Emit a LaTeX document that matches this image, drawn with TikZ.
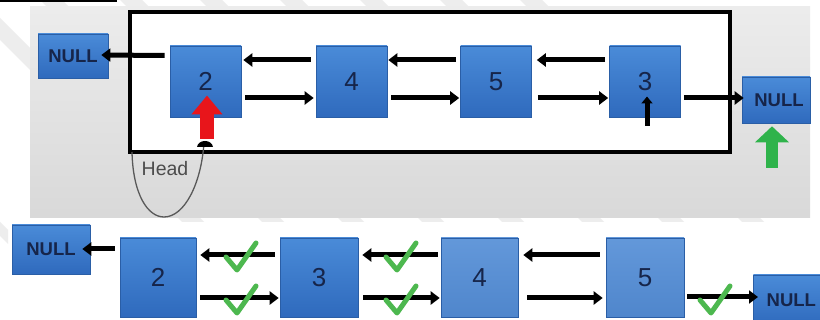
\documentclass[tikz,border=0pt]{standalone}
\usepackage{fontspec}
\setmainfont{Liberation Sans}
\usetikzlibrary{arrows.meta,calc}
\definecolor{nodetop}{HTML}{4A8BD8}
\definecolor{nodebot}{HTML}{2F6ABD}
\definecolor{nodeline}{HTML}{2A5EA6}
\definecolor{lighttop}{HTML}{6398DA}
\definecolor{lightbot}{HTML}{4F86CC}
\definecolor{navytext}{HTML}{16254A}
\definecolor{panelgray}{HTML}{E4E4E4}
\definecolor{redarr}{HTML}{E8151B}
\definecolor{greenarr}{HTML}{2FB34B}
\definecolor{checkgreen}{HTML}{4DB84F}
\tikzset{
  blk/.style={rectangle, draw=nodeline, line width=0.6pt, top color=nodetop, bottom color=nodebot,
    text=navytext, font=\fontsize{26}{26}\selectfont, inner sep=0pt},
  lblk/.style={blk, top color=lighttop, bottom color=lightbot},
  nullbox/.style={blk, font=\bfseries\fontsize{18.5}{18.5}\selectfont},
  arr/.style={line width=5pt, -{Triangle[width=13pt,length=9pt]}},
  smallarr/.style={line width=5pt, -{Triangle[width=11pt,length=7pt]}},
  chk/.style={line width=5pt, draw=checkgreen, line cap=round, line join=round},
}
\begin{document}
\begin{tikzpicture}[x=1pt,y=-1pt]
\useasboundingbox (0,0) rectangle (820,320);
\clip (0,0) rectangle (820,320);
\fill[white] (0,0) rectangle (820,320);
% decorative diagonal stripes
\foreach \s in {-40,40,120,200,280,360,440,520}
  \fill[black!7] (\s,0) -- (\s+22,0) -- (\s+22+260,260) -- (\s+260,260) -- cycle;
\fill[white] (0,222) rectangle (820,320);
\fill[black!7] (0,222) -- (0,236) -- (8,244) -- (8,230) -- cycle;
\draw[line width=1.5pt] (0,0.8) -- (117,0.8);
% gray panel
\fill[top color=panelgray!70, bottom color=panelgray!95!black] (30,7) rectangle (810,218);
% big white frame
\draw[line width=4pt, fill=white] (130,12) rectangle (730,152);

% ---------- top row ----------
\node[nullbox, minimum width=70pt, minimum height=44pt] (nl) at (73,56) {NULL};
\node[blk, minimum width=71pt, minimum height=71pt] (n2) at (205.5,81.5) {2};
\node[blk, minimum width=71pt, minimum height=71pt] (n4) at (351.5,81.5) {4};
\node[blk, minimum width=71pt, minimum height=71pt] (n5) at (496,81.5) {5};
\node[blk, minimum width=71pt, minimum height=71pt] (n3) at (645,81.5) {3};
\node[nullbox, minimum width=68pt, minimum height=46pt] (nr) at (776,100) {\hspace*{6pt}NULL};

\draw[arr] ([xshift=-5pt,yshift=26pt]n2.west) -- ([xshift=-7pt,yshift=1pt]nl.east);
\draw[arr] ([xshift=-5pt,yshift=21.5pt]n4.west) -- ([xshift=2pt,yshift=21.5pt]n2.east);
\draw[arr] ([xshift=4pt,yshift=-16.5pt]n2.east) -- ([xshift=-2pt,yshift=-16.5pt]n4.west);
\draw[arr] ([xshift=-4pt,yshift=21.5pt]n5.west) -- ([xshift=1pt,yshift=21.5pt]n4.east);
\draw[arr] ([xshift=4pt,yshift=-16.5pt]n4.east) -- ([xshift=-1pt,yshift=-16.5pt]n5.west);
\draw[arr] ([xshift=-4pt,yshift=21.5pt]n3.west) -- ([xshift=5pt,yshift=21.5pt]n5.east);
\draw[arr] ([xshift=6pt,yshift=-16.5pt]n5.east) -- ([xshift=-1pt,yshift=-16.5pt]n3.west);
\draw[arr] ([xshift=3pt,yshift=-16.5pt]n3.east) -- ([xshift=2pt,yshift=2pt]nr.west);

% small black pointer in node 3
\coordinate (p3) at (647,126);
\draw[smallarr] (p3) -- ([xshift=2pt,yshift=-15pt]n3.center);

% Head loop
\draw[black!65, line width=1.3pt] (132,152) .. controls (133,195) and (148,217) .. (164,217)
  .. controls (184,217) and (201,185) .. (204,143);
\fill[black] (197,147) .. controls (198,139) and (212,139) .. (213,147) -- cycle;
\node[text=black!70, font=\fontsize{19.5}{19.5}\selectfont, inner sep=0pt] (headlbl) at (165,169) {Head};

% red head arrow
\coordinate (rbase) at (207,139);
\draw[redarr, line width=14pt, -{Triangle[width=30pt,length=19pt]}] (rbase) -- ([xshift=1.5pt,yshift=-14pt]n2.center);

% green arrow
\coordinate (gbase) at (772,168);
\draw[greenarr, line width=12pt, -{Triangle[width=33pt,length=16pt]}] (gbase) -- ([yshift=-3pt]gbase |- nr.south);

% ---------- bottom row ----------
\node[nullbox, minimum width=78pt, minimum height=49pt] (bl) at (51,249.5) {NULL};
\node[blk, minimum width=76pt, minimum height=79pt] (b2) at (158,277.5) {2};
\node[blk, minimum width=78pt, minimum height=79pt] (b3) at (319,277.5) {3};
\node[lblk, minimum width=77pt, minimum height=79pt] (b4) at (479.5,277.5) {4};
\node[lblk, minimum width=78pt, minimum height=79pt] (b5) at (645,277.5) {5};
\node[nullbox, minimum width=70pt, minimum height=50pt, anchor=west] (br) at (753,300) {\hspace*{6pt}NULL};

\draw[arr] ([xshift=-5pt,yshift=28.5pt]b2.west) -- ([xshift=-8pt,yshift=0.5pt]bl.east);
\draw[arr] ([xshift=-5pt,yshift=22.5pt]b3.west) -- ([xshift=4pt,yshift=22.5pt]b2.east);
\draw[arr] ([xshift=4pt,yshift=-20.5pt]b2.east) -- ([xshift=-1pt,yshift=-20.5pt]b3.west);
\draw[arr] ([xshift=-3pt,yshift=22.5pt]b4.west) -- ([xshift=4pt,yshift=22.5pt]b3.east);
\draw[arr] ([xshift=5pt,yshift=-20.5pt]b3.east) -- ([xshift=-1pt,yshift=-20.5pt]b4.west);
\draw[arr] ([xshift=-6pt,yshift=22.5pt]b5.west) -- ([xshift=5pt,yshift=22.5pt]b4.east);
\draw[arr] ([xshift=9pt,yshift=-20.5pt]b4.east) -- ([xshift=-3pt,yshift=-20.5pt]b5.west);
\draw[arr] ([xshift=3pt,yshift=-19.5pt]b5.east) -- ([xshift=5pt,yshift=3pt]br.west);

% check marks
\foreach \cx/\cy in {226/257, 226/300, 386/257, 386/300, 700/300}
  \draw[chk] (\cx,\cy) -- (\cx+11,\cy+13) -- (\cx+30,\cy-14);
\end{tikzpicture}
\end{document}
